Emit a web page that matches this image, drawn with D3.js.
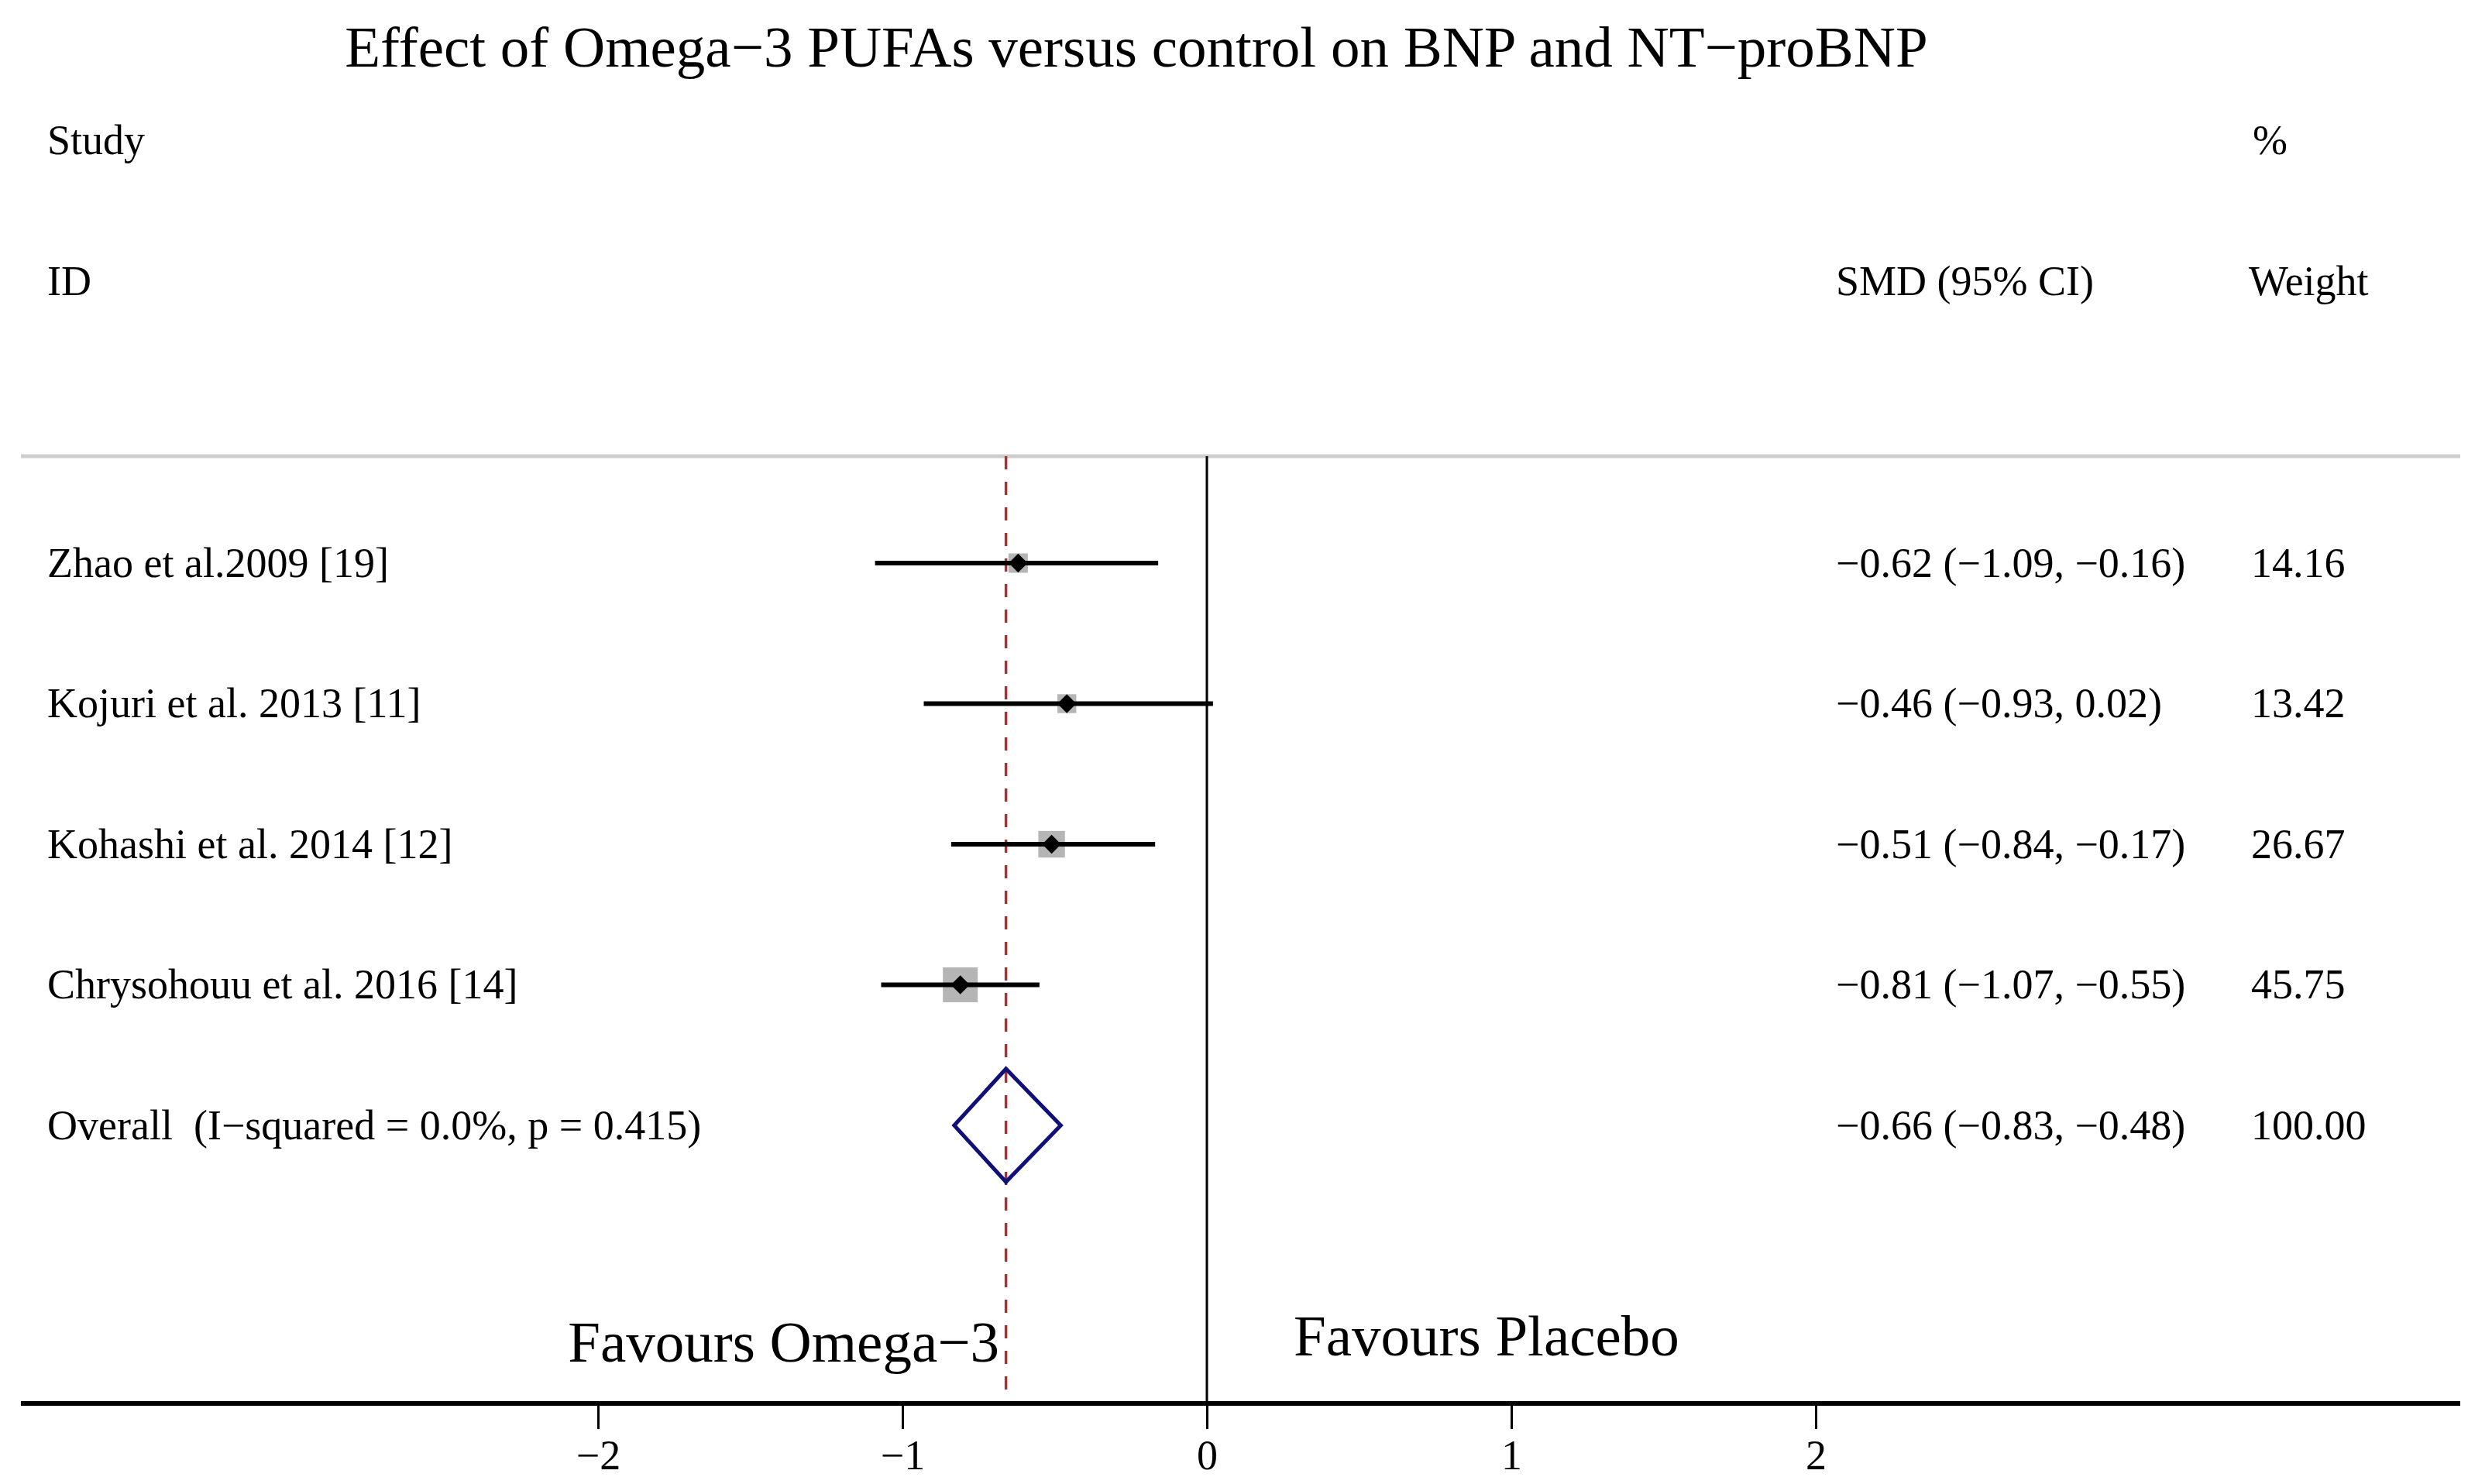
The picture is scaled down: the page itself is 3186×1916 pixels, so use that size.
<!DOCTYPE html>
<html>
<head>
<meta charset="utf-8">
<script src="https://d3js.org/d3.v7.min.js"></script>
<style>
  body { margin: 0; background: #fff; }
  text { font-family: "Liberation Serif", "Times New Roman", serif; fill: #000; }
</style>
</head>
<body>
<div id="chart-area"></div>
<script>
// data
var studies = ["Zhao et al.2009 [19]", "Kojuri et al. 2013 [11]", "Kohashi et al. 2014 [12]",
  "Chrysohouu et al. 2016 [14]"];
var smd = [-0.62, -0.46, -0.51, -0.81];
var lower = [-1.09, -0.93, -0.84, -1.07];
var upper = [-0.16, 0.02, -0.17, -0.55];
var weights = [14.16, 13.42, 26.67, 45.75];

var overallLabel = "Overall  (I\u2212squared = 0.0%, p = 0.415)";
var overall = [-0.66, -0.83, -0.48];
var overallWeight = 100;

var xTicks = [-2, -1, 0, 1, 2];

var width = 3186;
var height = 1916;

var svg = d3.select("#chart-area").append("svg")
  .attr("width", width)
  .attr("height", height);

svg.append("rect")
  .attr("width", width)
  .attr("height", height)
  .attr("fill", "#fff");

// X Scale
var x = d3.scaleLinear()
  .domain([-2, 2])
  .range([772, 2344]);

// Y Scale (rows)
var rows = d3.range(studies.length + 1);
var y = d3.scalePoint()
  .domain(rows)
  .range([727, 1453]);

// marker size scale
var boxSize = d3.scaleSqrt()
  .domain([0, d3.max(weights)])
  .range([0, 45]);

var fmt = d3.format(".2f");

var plotTop = 589;
var plotBottom = 1812;
var left = 27;
var right = 3176;

// Title
svg.append("text")
  .attr("x", 1467)
  .attr("y", 86)
  .attr("font-size", "75px")
  .attr("text-anchor", "middle")
  .text("Effect of Omega\u22123 PUFAs versus control on BNP and NT\u2212proBNP");

// Column headers
svg.append("text").attr("x", 61).attr("y", 199).attr("font-size", "54px").text("Study");
svg.append("text").attr("x", 61).attr("y", 381).attr("font-size", "54px").text("ID");
svg.append("text").attr("x", 2370).attr("y", 381).attr("font-size", "54px").text("SMD (95% CI)");
svg.append("text").attr("x", 2908).attr("y", 199).attr("font-size", "54px").text("%");
svg.append("text").attr("x", 2903).attr("y", 381).attr("font-size", "54px").text("Weight");

// grey separator
svg.append("line")
  .attr("x1", left).attr("x2", right)
  .attr("y1", plotTop).attr("y2", plotTop)
  .attr("stroke", "#cfcfcf")
  .attr("stroke-width", 5);

// no effect line
svg.append("line")
  .attr("x1", x(0)).attr("x2", x(0))
  .attr("y1", plotTop).attr("y2", plotBottom)
  .attr("stroke", "#000")
  .attr("stroke-width", 3);

// overall effect dashed line
svg.append("line")
  .attr("x1", x(overall[0])).attr("x2", x(overall[0]))
  .attr("y1", plotTop).attr("y2", plotBottom)
  .attr("stroke", "#a83232")
  .attr("stroke-width", 3.5)
  .attr("stroke-dasharray", "17,16");

// weight boxes
svg.selectAll("rect.box")
  .data(studies)
  .enter()
  .append("rect")
  .attr("class", "box")
  .attr("x", function(d, i) { return x(smd[i]) - boxSize(weights[i]) / 2; })
  .attr("y", function(d, i) { return y(i) - boxSize(weights[i]) / 2; })
  .attr("width", function(d, i) { return boxSize(weights[i]); })
  .attr("height", function(d, i) { return boxSize(weights[i]); })
  .attr("fill", "#b5b5b5");

// CI lines
svg.selectAll("line.ci")
  .data(studies)
  .enter()
  .append("line")
  .attr("class", "ci")
  .attr("x1", function(d, i) { return x(lower[i]); })
  .attr("x2", function(d, i) { return x(upper[i]); })
  .attr("y1", function(d, i) { return y(i); })
  .attr("y2", function(d, i) { return y(i); })
  .attr("stroke", "#000")
  .attr("stroke-width", 6);

// point estimates
svg.selectAll("path.pt")
  .data(studies)
  .enter()
  .append("path")
  .attr("class", "pt")
  .attr("d", d3.symbol().type(d3.symbolDiamond2).size(380))
  .attr("transform", function(d, i) {
    return "translate(" + x(smd[i]) + "," + y(i) + ")";
  })
  .attr("fill", "#000");

// overall diamond
var oy = y(studies.length);
svg.append("path")
  .attr("d", "M" + x(overall[1]) + "," + oy +
    "L" + x(overall[0]) + "," + (oy - 73) +
    "L" + x(overall[2]) + "," + oy +
    "L" + x(overall[0]) + "," + (oy + 73) + "Z")
  .attr("fill", "none")
  .attr("stroke", "#10107a")
  .attr("stroke-width", 5);

// row labels
var labels = studies.concat([overallLabel]);
svg.selectAll("text.label")
  .data(labels)
  .enter()
  .append("text")
  .attr("class", "label")
  .attr("x", 61)
  .attr("y", function(d, i) { return y(i); })
  .attr("dy", "0.33em")
  .attr("font-size", "54px")
  .style("white-space", "pre")
  .text(function(d) { return d; });

// SMD text
var smdAll = smd.concat([overall[0]]);
var lowAll = lower.concat([overall[1]]);
var upAll = upper.concat([overall[2]]);
svg.selectAll("text.smd")
  .data(smdAll)
  .enter()
  .append("text")
  .attr("class", "smd")
  .attr("x", 2370)
  .attr("y", function(d, i) { return y(i); })
  .attr("dy", "0.33em")
  .attr("font-size", "54px")
  .text(function(d, i) {
    return fmt(d) + " (" + fmt(lowAll[i]) + ", " + fmt(upAll[i]) + ")";
  });

// weight text
svg.selectAll("text.wt")
  .data(weights.concat([overallWeight]))
  .enter()
  .append("text")
  .attr("class", "wt")
  .attr("x", 2906)
  .attr("y", function(d, i) { return y(i); })
  .attr("dy", "0.33em")
  .attr("font-size", "54px")
  .text(function(d) { return fmt(d); });

// Favours labels
svg.append("text")
  .attr("x", x(0) - 268)
  .attr("y", 1758)
  .attr("font-size", "75px")
  .attr("text-anchor", "end")
  .text("Favours Omega\u22123");

svg.append("text")
  .attr("x", x(0) + 112)
  .attr("y", 1750)
  .attr("font-size", "75px")
  .text("Favours Placebo");

// X Axis
var xAxisCall = d3.axisBottom(x)
  .tickValues(xTicks)
  .tickSize(33)
  .tickPadding(14)
  .tickFormat(d3.format("d"));
var xAxis = svg.append("g")
  .attr("class", "x axis")
  .attr("transform", "translate(0," + plotBottom + ")")
  .call(xAxisCall);
xAxis.select(".domain").remove();
xAxis.selectAll("line")
  .attr("stroke", "#000")
  .attr("stroke-width", 3);
xAxis.selectAll("text")
  .attr("font-size", "54px")
  .attr("font-family", "Liberation Serif, serif")
  .attr("fill", "#000");

// axis line
svg.append("line")
  .attr("x1", left).attr("x2", right)
  .attr("y1", plotBottom).attr("y2", plotBottom)
  .attr("stroke", "#000")
  .attr("stroke-width", 6);
</script>
</body>
</html>
